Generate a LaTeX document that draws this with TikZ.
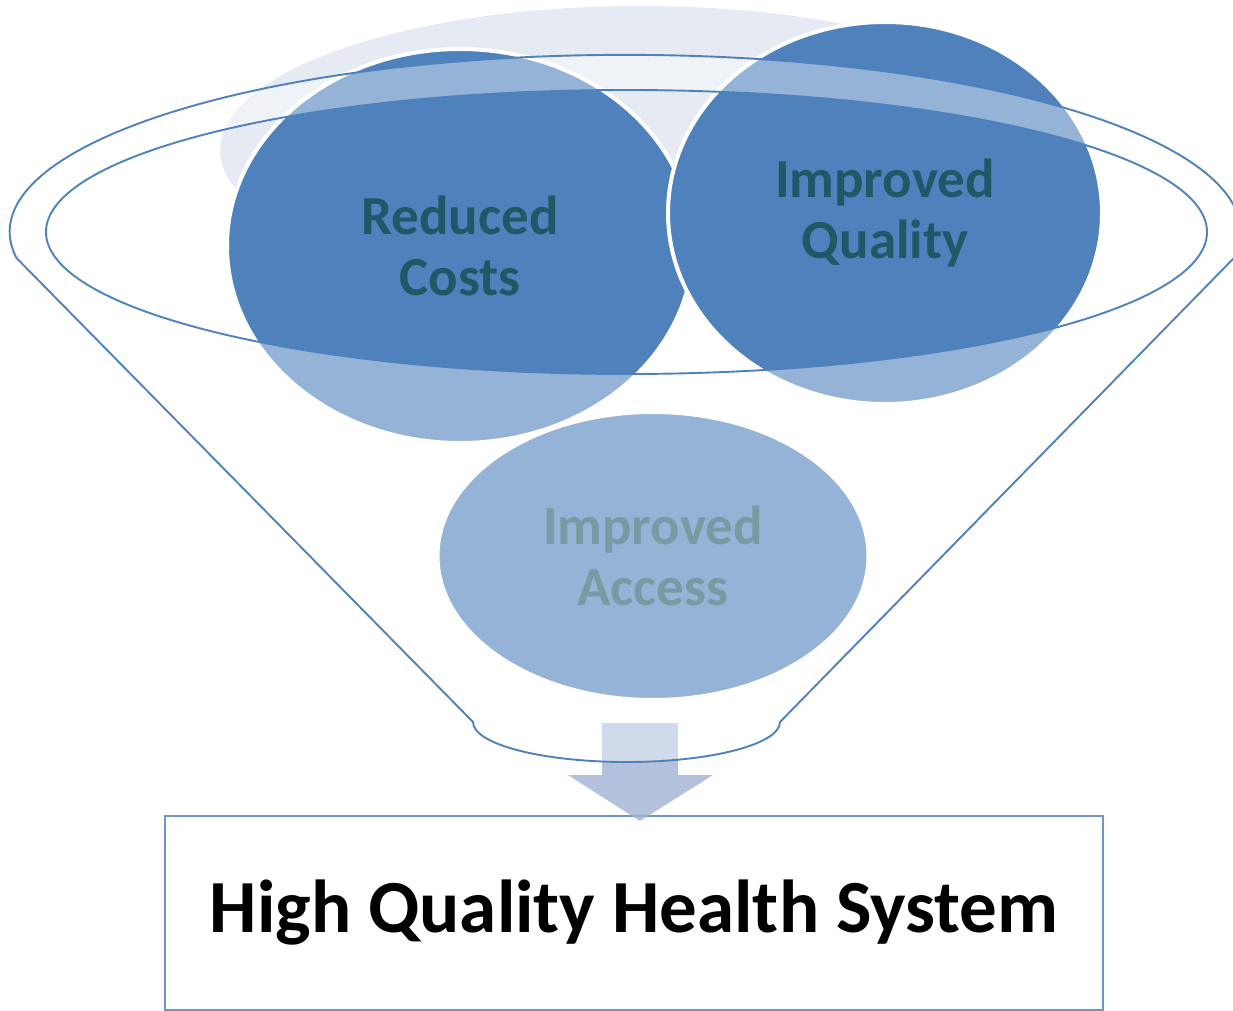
\documentclass[tikz,border=0pt]{standalone}
\usepackage{fontspec}
\setmainfont{Carlito}
\usepackage{xcolor}
\usepackage{tikz}
\usetikzlibrary{shapes.geometric}
\definecolor{aimblue}{HTML}{4F81BD}
\definecolor{aimteal}{HTML}{205867}
\definecolor{paleback}{HTML}{E5EAF3}
\definecolor{boxline}{HTML}{6F95C8}
\definecolor{arrowfill}{RGB}{160,178,211}

\begin{document}
\begin{tikzpicture}[
    x=1pt, y=1pt,
    aim/.style={ellipse, draw=white, line width=4pt, fill=aimblue, text=aimteal, inner sep=0pt, align=center, font=\bfseries\fontsize{55}{61}\selectfont},
    outcome/.style={rectangle, draw=boxline, line width=2pt, fill=white, minimum width=938, minimum height=194, align=center, font=\bfseries\fontsize{75}{80}\selectfont},
    rim/.style={draw=aimblue, line width=1.9pt}
]
\useasboundingbox (0,0) rectangle (1233,-1011);

% back of the funnel
\filldraw[fill=paleback, draw=white, line width=4pt] (640,-150) ellipse [x radius=422, y radius=146];

\node[aim, minimum width=466, minimum height=394] (costs) at (460,-246) {Reduced\\Costs};
\node[aim, minimum width=434, minimum height=382] (quality) at (885,-213) {Improved\\Quality};
\node[aim, minimum width=431, minimum height=288] (access) at (653,-556) {Improved\\Access};

\node[outcome] (system) at (634,-913) {High Quality Health System};

% block arrow into the box
\fill[arrowfill, fill opacity=0.8] (602,-723) -- (678,-723) -- (678,-775) -- (713,-775)
    -- (640,-821) -- (568,-775) -- (602,-775) -- cycle;

% funnel body with its opening
\fill[white, fill opacity=0.4, even odd rule]
    (473,-722) -- (16.5,-258) arc[start angle=188.5, end angle=-8.5, x radius=615.5, y radius=177]
    -- (780,-722) arc[start angle=0, end angle=-180, x radius=153.5, y radius=40] -- cycle
    (626.5,-232) ellipse [x radius=580.5, y radius=142];
\draw[rim] (473,-722) -- (16.5,-258) arc[start angle=188.5, end angle=-8.5, x radius=615.5, y radius=177]
    -- (780,-722) arc[start angle=0, end angle=-180, x radius=153.5, y radius=40] -- cycle;
\draw[rim] (626.5,-232) ellipse [x radius=580.5, y radius=142];
\end{tikzpicture}
\end{document}
